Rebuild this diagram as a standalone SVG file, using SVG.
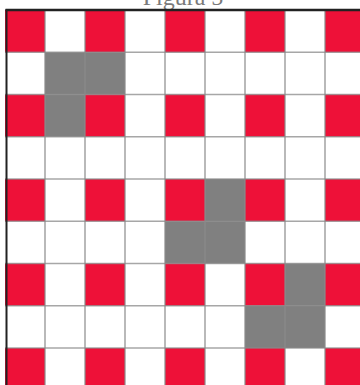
<svg xmlns="http://www.w3.org/2000/svg" width="360" height="385" viewBox="0 0 360 385">
<style>
.title{font-family:"Liberation Serif","Times New Roman",serif;font-size:24px;fill:#7a7a7a;text-anchor:middle}
.r{fill:#ee1138}
.g{fill:#808080}
.w{fill:#ffffff}
.grid line{stroke:#8a8a8a;stroke-width:1.6;stroke-opacity:0.75}
.border{stroke:#222;fill:none}
</style>
<rect x="0" y="0" width="360" height="385" fill="#ffffff"/>
<text class="title" x="183" y="5">Figura 5</text>
<g id="cells">
<g id="row0">
<rect class="r" x="5" y="10" width="40" height="42.25"/>
<rect class="r" x="85" y="10" width="40" height="42.25"/>
<rect class="r" x="165" y="10" width="40" height="42.25"/>
<rect class="r" x="245" y="10" width="40" height="42.25"/>
<rect class="r" x="325" y="10" width="40" height="42.25"/>
</g>
<g id="row1">
<rect class="g" x="45" y="52.25" width="40" height="42.25"/>
<rect class="g" x="85" y="52.25" width="40" height="42.25"/>
</g>
<g id="row2">
<rect class="r" x="5" y="94.5" width="40" height="42.25"/>
<rect class="g" x="45" y="94.5" width="40" height="42.25"/>
<rect class="r" x="85" y="94.5" width="40" height="42.25"/>
<rect class="r" x="165" y="94.5" width="40" height="42.25"/>
<rect class="r" x="245" y="94.5" width="40" height="42.25"/>
<rect class="r" x="325" y="94.5" width="40" height="42.25"/>
</g>
<g id="row4">
<rect class="r" x="5" y="179" width="40" height="42.25"/>
<rect class="r" x="85" y="179" width="40" height="42.25"/>
<rect class="r" x="165" y="179" width="40" height="42.25"/>
<rect class="g" x="205" y="179" width="40" height="42.25"/>
<rect class="r" x="245" y="179" width="40" height="42.25"/>
<rect class="r" x="325" y="179" width="40" height="42.25"/>
</g>
<g id="row5">
<rect class="g" x="165" y="221.25" width="40" height="42.25"/>
<rect class="g" x="205" y="221.25" width="40" height="42.25"/>
</g>
<g id="row6">
<rect class="r" x="5" y="263.5" width="40" height="42.25"/>
<rect class="r" x="85" y="263.5" width="40" height="42.25"/>
<rect class="r" x="165" y="263.5" width="40" height="42.25"/>
<rect class="r" x="245" y="263.5" width="40" height="42.25"/>
<rect class="g" x="285" y="263.5" width="40" height="42.25"/>
<rect class="r" x="325" y="263.5" width="40" height="42.25"/>
</g>
<g id="row7">
<rect class="g" x="245" y="305.75" width="40" height="42.25"/>
<rect class="g" x="285" y="305.75" width="40" height="42.25"/>
</g>
<g id="row8">
<rect class="r" x="5" y="348" width="40" height="42.25"/>
<rect class="r" x="85" y="348" width="40" height="42.25"/>
<rect class="r" x="165" y="348" width="40" height="42.25"/>
<rect class="r" x="245" y="348" width="40" height="42.25"/>
<rect class="r" x="325" y="348" width="40" height="42.25"/>
</g>
</g>
<g id="connectors" class="grid">
<line x1="45" y1="10" x2="45" y2="385"/>
<line x1="85" y1="10" x2="85" y2="385"/>
<line x1="125" y1="10" x2="125" y2="385"/>
<line x1="165" y1="10" x2="165" y2="385"/>
<line x1="205" y1="10" x2="205" y2="385"/>
<line x1="245" y1="10" x2="245" y2="385"/>
<line x1="285" y1="10" x2="285" y2="385"/>
<line x1="325" y1="10" x2="325" y2="385"/>
<line x1="5" y1="52.25" x2="360" y2="52.25"/>
<line x1="5" y1="94.5" x2="360" y2="94.5"/>
<line x1="5" y1="136.75" x2="360" y2="136.75"/>
<line x1="5" y1="179" x2="360" y2="179"/>
<line x1="5" y1="221.25" x2="360" y2="221.25"/>
<line x1="5" y1="263.5" x2="360" y2="263.5"/>
<line x1="5" y1="305.75" x2="360" y2="305.75"/>
<line x1="5" y1="348" x2="360" y2="348"/>
</g>
<g id="frame">
<line class="border" x1="6.5" y1="9" x2="6.5" y2="385" stroke-width="2"/>
<line class="border" x1="5.5" y1="10" x2="360" y2="10" stroke-width="2.5"/>
</g>
</svg>
